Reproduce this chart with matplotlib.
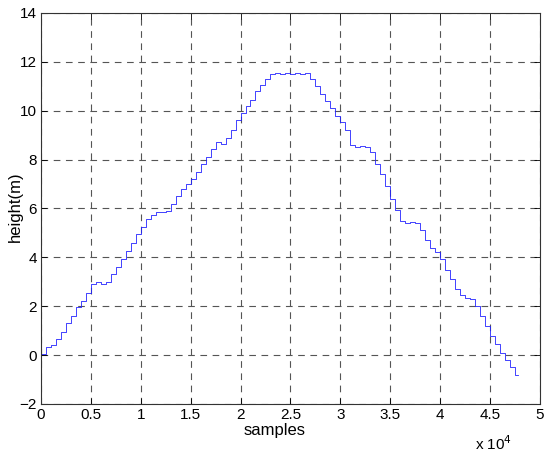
import numpy as np
import matplotlib
matplotlib.use('Agg')
import matplotlib.pyplot as plt

# samples and height (every 500 samples)
samples = [0, 500, 1000, 1500, 2000, 2500, 3000, 3500, 4000, 4500,
           5000, 5500, 6000, 6500, 7000, 7500, 8000, 8500, 9000, 9500,
           10000, 10500, 11000, 11500, 12000, 12500, 13000, 13500, 14000, 14500,
           15000, 15500, 16000, 16500, 17000, 17500, 18000, 18500, 19000, 19500,
           20000, 20500, 21000, 21500, 22000, 22500, 23000, 23500, 24000, 24500,
           25000, 25500, 26000, 26500, 27000, 27500, 28000, 28500, 29000, 29500,
           30000, 30500, 31000, 31500, 32000, 32500, 33000, 33500, 34000, 34500,
           35000, 35500, 36000, 36500, 37000, 37500, 38000, 38500, 39000, 39500,
           40000, 40500, 41000, 41500, 42000, 42500, 43000, 43500, 44000, 44500,
           45000, 45500, 46000, 46500, 47000, 47500, 47800]
height = [0.05, 0.35, 0.4, 0.65, 0.95, 1.3, 1.6, 1.95, 2.2, 2.55,
          2.9, 3.0, 2.9, 3.0, 3.3, 3.6, 3.95, 4.25, 4.6, 4.95,
          5.25, 5.55, 5.75, 5.85, 5.85, 5.9, 6.2, 6.5, 6.8, 7.0,
          7.2, 7.5, 7.8, 8.1, 8.45, 8.7, 8.65, 8.9, 9.2, 9.6,
          9.9, 10.2, 10.45, 10.8, 11.05, 11.3, 11.5, 11.55, 11.5, 11.55,
          11.5, 11.55, 11.5, 11.55, 11.3, 11.0, 10.7, 10.4, 10.1, 9.8,
          9.55, 9.2, 8.6, 8.5, 8.55, 8.5, 8.3, 7.8, 7.4, 6.9,
          6.4, 5.95, 5.5, 5.4, 5.45, 5.4, 5.1, 4.7, 4.4, 4.2,
          3.95, 3.5, 3.1, 2.7, 2.45, 2.35, 2.3, 2.0, 1.6, 1.2,
          0.8, 0.45, 0.1, -0.2, -0.5, -0.8, -0.8]

xticks = [0, 5000, 10000, 15000, 20000, 25000, 30000, 35000, 40000, 45000, 50000]
xticklabels = ['0', '0.5', '1', '1.5', '2', '2.5', '3', '3.5', '4', '4.5', '5']
yticks = [-2, 0, 2, 4, 6, 8, 10, 12, 14]

plt.rcParams['font.family'] = ['Liberation Sans', 'DejaVu Sans']

fig = plt.figure(figsize=(5.5, 4.58), dpi=100)
ax = fig.add_axes([0.0745, 0.118, 0.907, 0.8537])

ax.plot(samples, height, color='#2222ff', linewidth=0.6, drawstyle='steps-post')

ax.set_xlim(0, 50000)
ax.set_ylim(-2, 14)
ax.set_xticks(xticks)
ax.set_xticklabels(xticklabels)
ax.set_yticks(yticks)
ax.tick_params(direction='in', length=4, width=0.6, labelsize=11,
               top=True, right=True, colors='black', pad=3)
ax.grid(True, color='#555555', linestyle=(0, (6, 5)), linewidth=0.8)
for s in ax.spines.values():
    s.set_linewidth(0.8)
    s.set_color('#333333')

# labels placed like the MATLAB figure
fig.text(275 / 550, 1 - 431 / 458, 'samples', fontsize=12, ha='center', va='center')
fig.text(15 / 550, 1 - 207 / 458, 'height(m)', fontsize=12, rotation=90,
         ha='center', va='center')
fig.text(512 / 550, 1 - 444 / 458, r'x 10$^4$', fontsize=11, ha='right', va='center')

fig.savefig('out.png', dpi=100)
